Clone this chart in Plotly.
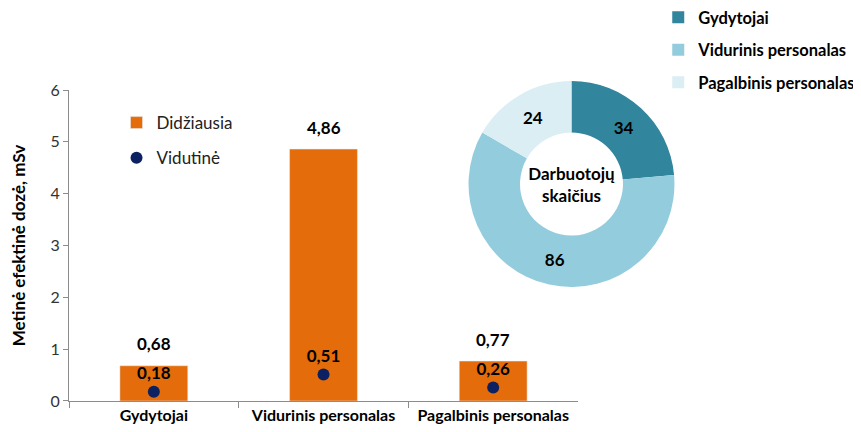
import plotly.graph_objects as go

# bar / dot data (mSv)
categories = ['Gydytojai', 'Vidurinis personalas', 'Pagalbinis personalas']
max_dose = [0.68, 4.86, 0.77]
avg_dose = [0.18, 0.51, 0.26]

# donut data (employees)
staff_groups = ['Gydytojai', 'Vidurinis personalas', 'Pagalbinis personalas']
staff_count = [34, 86, 24]

FONT = 'Lato'
ORANGE = '#e46c0a'
NAVY = '#0b2161'
PIE_COLORS = ['#31859c', '#93cddd', '#dbeef4']


def fmt(v):
    return f'{v:.2f}'.replace('.', ',')


fig = go.Figure()

fig.add_trace(go.Bar(
    x=categories, y=max_dose, name='Didžiausia',
    marker_color=ORANGE, width=0.4,
    legend='legend', legendgroup='a',
))
fig.add_trace(go.Scatter(
    x=categories, y=avg_dose, name='Vidutinė', mode='markers+text',
    marker=dict(color=NAVY, size=12),
    text=[fmt(v) for v in avg_dose], textposition='top center',
    textfont=dict(family=FONT, size=17, color='black', weight='bold'),
    legend='legend', legendgroup='b', cliponaxis=False,
))

# labels above the bars
for c, v in zip(categories, max_dose):
    fig.add_annotation(
        x=c, y=v, text=f'<b>{fmt(v)}</b>', showarrow=False,
        yshift=22, font=dict(family=FONT, size=17, color='black'),
    )

fig.add_trace(go.Pie(
    labels=staff_groups, values=staff_count, hole=0.5,
    sort=False, direction='clockwise', rotation=0,
    marker=dict(colors=PIE_COLORS),
    textinfo='value', textposition='inside', insidetextorientation='horizontal',
    textfont=dict(family=FONT, size=17, color='black', weight='bold'),
    title=dict(text='<b>Darbuotojų<br>skaičius</b>', position='middle center',
               font=dict(family=FONT, size=17, color='black')),
    domain=dict(x=[0.5044, 0.7645], y=[0.290, 0.814]),
    showlegend=False, hoverinfo='label+value',
))

# legend entries for the donut (separate groups so spacing matches)
for i, (name, col) in enumerate(zip(staff_groups, PIE_COLORS)):
    fig.add_trace(go.Scatter(
        x=[None], y=[None], mode='markers', name=name,
        marker=dict(symbol='square', size=13, color=col),
        legend='legend2', legendgroup=f'p{i}',
    ))

# page body adds an 8px offset, so the figure is sized to the visible area
fig.update_layout(
    width=853, height=424,
    margin=dict(l=61, r=0, t=0, b=31, autoexpand=False),
    paper_bgcolor='white', plot_bgcolor='white',
    font=dict(family=FONT, size=15, color='#333333'),
    showlegend=True,
    legend=dict(
        x=0.06, y=0.753, xanchor='left', yanchor='top',
        traceorder='grouped', tracegroupgap=10,
        font=dict(family=FONT, size=17, color='#222222'),
        bgcolor='rgba(0,0,0,0)',
    ),
    legend2=dict(
        x=0.744, y=1.02, xanchor='left', yanchor='top',
        traceorder='grouped', tracegroupgap=8, itemsizing='constant',
        font=dict(family=FONT, size=16.5, color='black', weight='bold'),
        bgcolor='rgba(0,0,0,0)',
    ),
    xaxis=dict(
        domain=[0, 0.6427], automargin=False, tickangle=0,
        showline=True, linecolor='#8c8c8c', linewidth=1,
        ticks='outside', tickson='boundaries', ticklen=6, tickcolor='#8c8c8c',
        tickfont=dict(family=FONT, size=16, color='black', weight='bold'),
        showgrid=False,
    ),
    yaxis=dict(
        domain=[0, 0.7913], range=[0, 6], dtick=1, automargin=False,
        showline=True, linecolor='#8c8c8c', linewidth=1,
        ticks='outside', ticklen=5, tickcolor='#8c8c8c',
        tickfont=dict(family=FONT, size=16, color='#333333'),
        showgrid=False, zeroline=False,
        title=dict(text='<b>Metinė efektinė dozė, mSv</b>', standoff=21,
                   font=dict(family=FONT, size=17, color='black')),
    ),
)

fig.write_html('out.html')
